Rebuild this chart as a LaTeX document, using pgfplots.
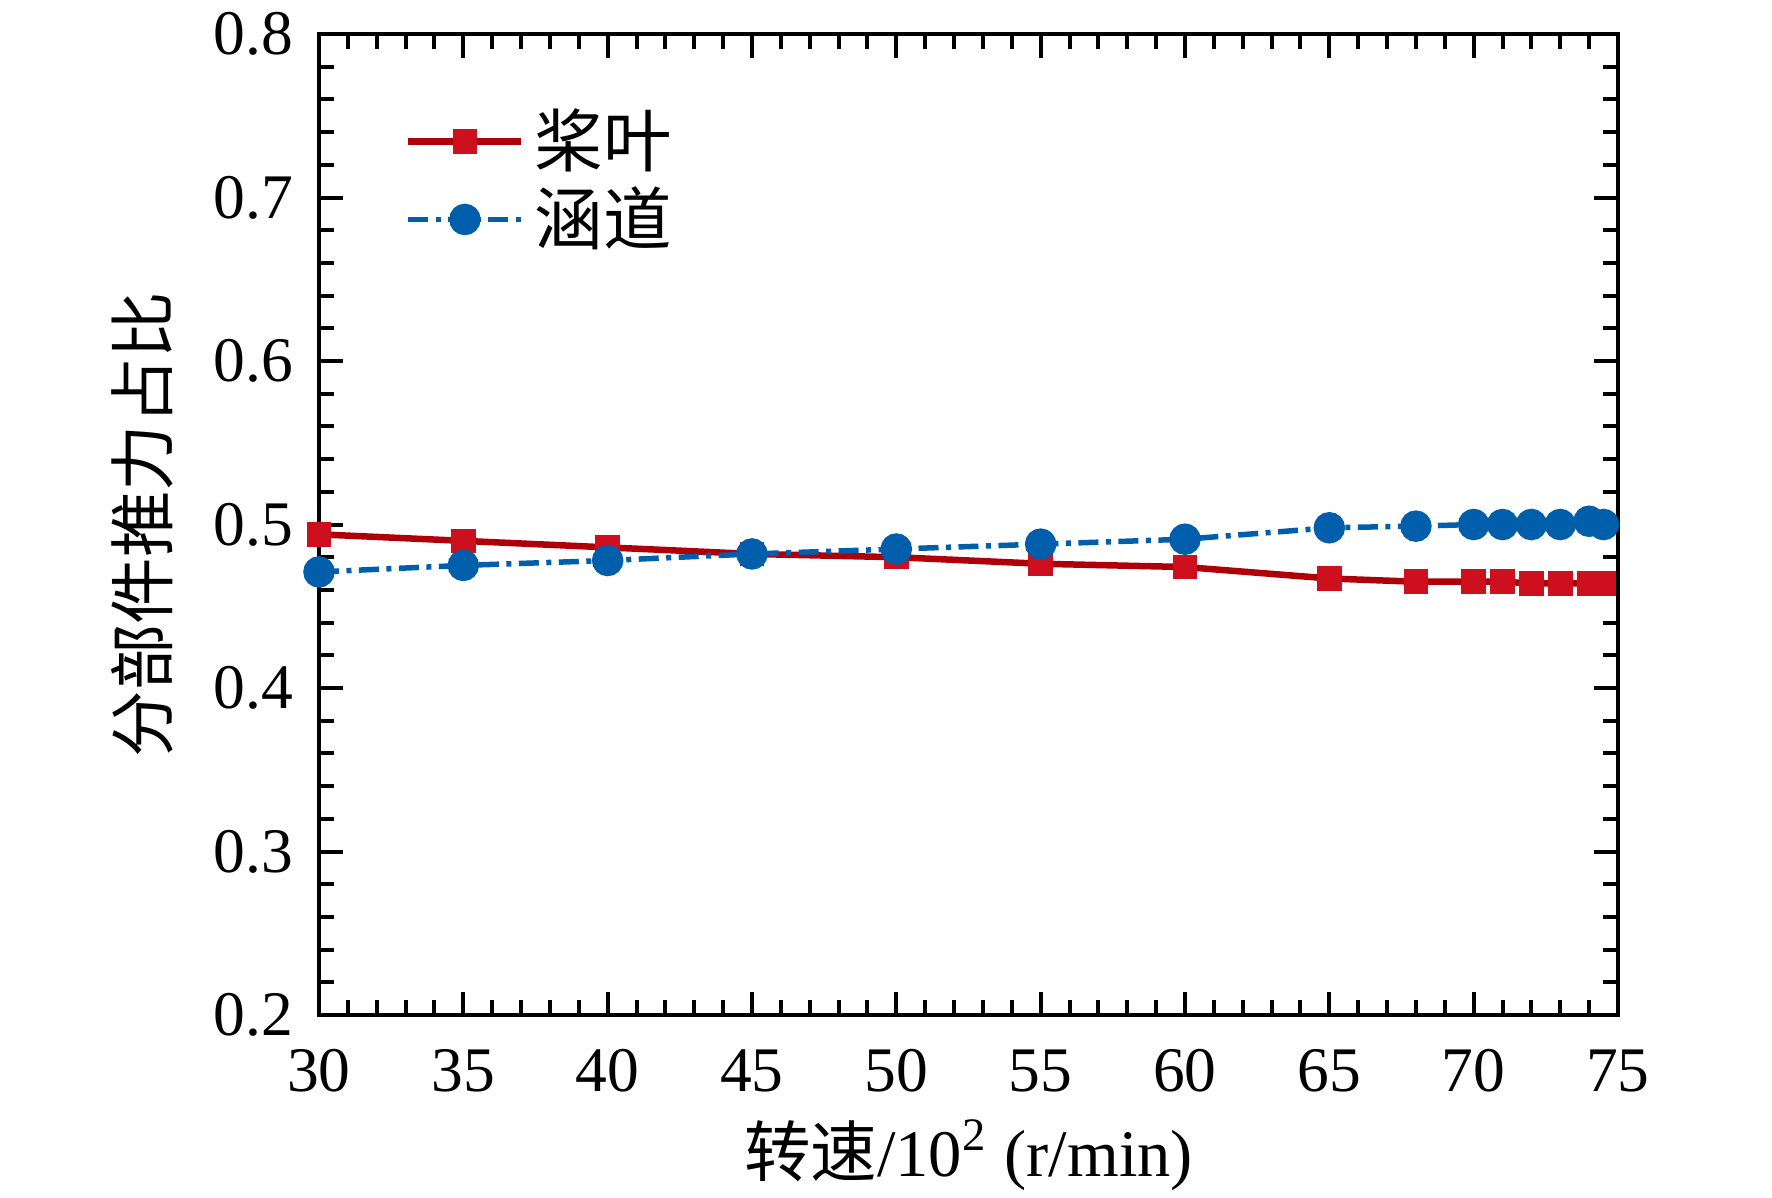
\documentclass[border=0pt]{standalone}
\usepackage{pgfplots}
\pgfplotsset{compat=1.18}
\usepackage{fontspec}
\setmainfont{Liberation Serif}
\newfontfamily\cjk{Noto Sans CJK SC}
\definecolor{cred}{RGB}{175,0,10}
\definecolor{cmred}{RGB}{205,15,30}
\definecolor{cblue}{RGB}{0,94,170}
\begin{document}
\begin{tikzpicture}
\useasboundingbox (0,0) rectangle (354.4pt,239.4pt);
\begin{axis}[
  at={(63.8pt,36.4pt)}, anchor=south west,
  width=259.8pt, height=196.2pt, scale only axis,
  xmin=30, xmax=75, ymin=0.2, ymax=0.8,
  xtick={30,35,...,75}, ytick={0.2,0.3,...,0.8},
  minor x tick num=4, minor y tick num=4,
  tick align=inside, tick pos=both,
  major tick length=4.7pt, minor tick length=3pt,
  every tick/.style={black, line width=0.8pt},
  axis line style={line width=0.9pt},
  tick label style={font=\fontsize{12.7}{14}\selectfont},
  xticklabel style={yshift=-3.4pt},
  yticklabel style={xshift=-1.6pt},
  /pgf/number format/assume math mode=true,
  yticklabel style={/pgf/number format/.cd, fixed, fixed zerofill, precision=1},
  xlabel={{\cjk 转速}/10\textsuperscript{2} (r/min)},
  ylabel={\cjk 分部件推力占比},
  label style={font=\fontsize{13.3}{15}\selectfont},
  xlabel style={yshift=1.5pt},
  ylabel style={yshift=1.4pt},
  legend style={draw=none, fill=none, at={(0.054,0.945)}, anchor=north west,
    font=\fontsize{13.7}{15.4}\selectfont, row sep=-1.5pt,
    /tikz/every even column/.append style={column sep=3pt}},
  legend cell align=left,
  legend image code/.code={
    \draw[#1, mark repeat=2, mark phase=2] plot coordinates {(0pt,0pt) (11.3pt,0pt) (22.6pt,0pt)};
  },
]
\addplot[cred, line width=1.3pt, mark=square*, mark size=1.8pt, mark options={solid, fill=cmred, draw=cmred}]
coordinates {
(30,0.494) (35,0.490) (40,0.486) (45,0.482) (50,0.480) (55,0.476) (60,0.474)
(65,0.467) (68,0.465) (70,0.465) (71,0.465) (72,0.464) (73,0.464) (74,0.464) (74.5,0.464)
};
\addlegendentry{\cjk 桨叶}
\addplot[cblue, line width=1.1pt, dash pattern=on 4pt off 1.5pt on 1pt off 1.5pt,
  mark=*, mark size=2.6pt, mark options={solid}]
coordinates {
(30,0.471) (35,0.475) (40,0.478) (45,0.482) (50,0.485) (55,0.488) (60,0.491)
(65,0.498) (68,0.499) (70,0.500) (71,0.500) (72,0.500) (73,0.500) (74,0.502) (74.5,0.500)
};
\addlegendentry{\cjk 涵道}
\end{axis}
\end{tikzpicture}
\end{document}
